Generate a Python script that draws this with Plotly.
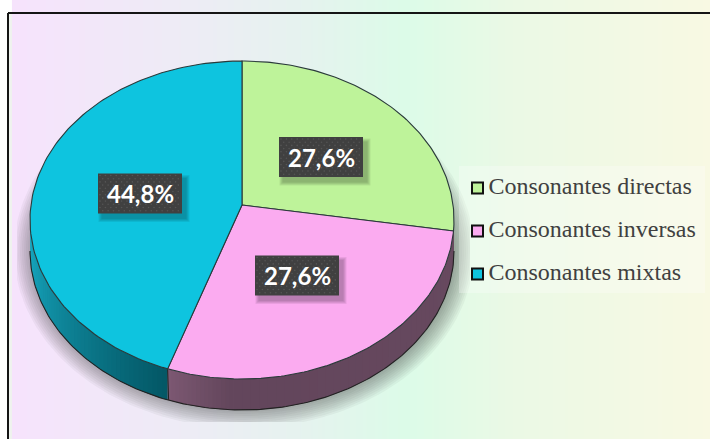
import numpy as np
import plotly.graph_objects as go

categories = ["Consonantes directas", "Consonantes inversas", "Consonantes mixtas"]
values = [27.6, 27.6, 44.8]

top_colors = ["#BEF39A", "#FBABF0", "#0EC4DF"]
CX, CY, RX, RY, DEPTH = 242.0, 220.0, 212.0, 159.0, 31.0
TILT = -15.0 / 159.0


def project(theta):
    """Perspective view of a point on the unit circle, clockwise from the top."""
    u, v = np.sin(theta), -np.cos(theta)
    d = 1 + TILT * v
    return CX + RX * u * np.sqrt(1 - TILT ** 2) / d, CY + RY * (v + TILT) / d


def ell(t, dy=0.0):
    return CX + RX * np.sin(t), CY - RY * np.cos(t) + dy


apex = (CX, CY + RY * TILT)
edges = np.cumsum([0] + values) / sum(values) * 2 * np.pi

fig = go.Figure()

# background gradient
gx = np.linspace(17, 710, 70)
fig.add_trace(go.Heatmap(
    x=gx, y=[13, 439], z=[gx, gx], zsmooth="best", showscale=False, hoverinfo="skip",
    colorscale=[[0, "#F6E3FC"], [0.25, "#EDECF5"], [0.4, "#E6F2EF"], [0.56, "#DCFBE8"],
                [0.72, "#EBF9E5"], [1, "#F8F9E3"]]))

# soft drop shadow, clipped to the plot area
t_full = np.linspace(0, 2 * np.pi, 241)
for d in range(18, -1, -2):
    sx = np.clip(CX + 2 + (RX + d) * np.sin(t_full), 17, 470)
    sy = np.clip(CY + 31 - (RY + d) * np.cos(t_full), 13, 422)
    fig.add_trace(go.Scatter(x=sx, y=sy, mode="lines", fill="toself", line=dict(width=0),
                             fillcolor="rgba(50,50,50,0.05)", hoverinfo="skip", showlegend=False))


def mix(c1, c2, f):
    return "rgb(%d,%d,%d)" % tuple(a + (b - a) * f for a, b in zip(c1, c2))


# side wall, drawn from overlapping strips so that it has a gradient
bx, by = project(edges[2])
t_split = np.pi + np.arcsin((CX - bx) / RX)
wall_parts = [
    (np.linspace(3 * np.pi / 2, t_split, 49), (24, 172, 196), (4, 88, 102)),
    (np.linspace(t_split - 0.32, np.pi / 2, 41), (99, 70, 92), (104, 74, 96)),
    (np.linspace(t_split, t_split - 0.32, 17), (124, 88, 114), (99, 70, 92)),
]
for ts, c1, c2 in wall_parts:
    for i in range(len(ts) - 1):
        a = ts[i:i + 3] if i < len(ts) - 2 else ts[i:i + 2]
        x1, y1 = ell(a)
        x2, y2 = ell(a[::-1], DEPTH)
        fig.add_trace(go.Scatter(
            x=np.r_[x1, x2], y=np.r_[y1, y2], mode="lines", fill="toself",
            line=dict(width=0),
            fillcolor=mix(c1, c2, i / (len(ts) - 2)), hoverinfo="skip", showlegend=False))

# wall outlines
tb = np.linspace(np.pi / 2, 3 * np.pi / 2, 181)
xb, yb = ell(tb, DEPTH)
fig.add_trace(go.Scatter(x=xb, y=yb, mode="lines", line=dict(color="#222222", width=1.1),
                         hoverinfo="skip", showlegend=False))
fig.add_trace(go.Scatter(x=[bx, bx + 1], y=[by, by + DEPTH], mode="lines",
                         line=dict(color="#222222", width=1), hoverinfo="skip", showlegend=False))

# top face
for i, cat in enumerate(categories):
    th = np.linspace(edges[i], edges[i + 1], 120)
    x, y = project(th)
    fig.add_trace(go.Scatter(
        x=np.r_[apex[0], x, apex[0]], y=np.r_[apex[1], y, apex[1]], mode="lines", fill="toself",
        fillcolor=top_colors[i], line=dict(color="#2A3A3A", width=1.1),
        name=cat, hovertemplate=f"{cat}: {values[i]}%<extra></extra>", showlegend=False))

# data label boxes: soft shadow, dark box, dotted texture
label_pos = [(321, 157), (297, 275.5), (140, 193.5)]
annotations = []
for v, (lx, ly) in zip(values, label_pos):
    for k in (7, 5, 3, 1):
        fig.add_trace(go.Scatter(
            x=[lx - 42 + 4 - k / 2, lx + 42 + 4 + k / 2, lx + 42 + 4 + k / 2, lx - 42 + 4 - k / 2, lx - 42 + 4 - k / 2],
            y=[ly - 20 + 5 - k / 2, ly - 20 + 5 - k / 2, ly + 20 + 5 + k / 2, ly + 20 + 5 + k / 2, ly - 20 + 5 - k / 2],
            mode="lines", fill="toself", line=dict(width=0), fillcolor="rgba(0,0,0,0.07)",
            hoverinfo="skip", showlegend=False))
    fig.add_trace(go.Scatter(
        x=[lx - 42, lx + 42, lx + 42, lx - 42, lx - 42],
        y=[ly - 20, ly - 20, ly + 20, ly + 20, ly - 20],
        mode="lines", fill="toself", line=dict(width=0), fillcolor="#404040",
        hoverinfo="skip", showlegend=False))
    dx, dy = [], []
    for r, yy in enumerate(np.arange(ly - 18, ly + 20, 3.2)):
        for xx in np.arange(lx - 40 + (r % 2) * 2.7, lx + 41, 5.4):
            dx.append(xx)
            dy.append(yy)
    fig.add_trace(go.Scatter(x=dx, y=dy, mode="markers", hoverinfo="skip", showlegend=False,
                             marker=dict(size=1.6, color="#555555", line=dict(width=0))))
    annotations.append(dict(
        x=lx, y=ly, xref="x", yref="y", showarrow=False,
        text=f"{v:.1f}%".replace(".", ","),
        font=dict(family="Lato", size=24, color="white", weight="bold")))

# legend backing panel, swatches and labels
legend_y = [188, 231, 274]
fig.add_trace(go.Scatter(
    x=[459, 705, 705, 459, 459], y=[166, 166, 293, 293, 166], mode="lines", fill="toself",
    line=dict(width=0), fillcolor="rgba(255,255,255,0.28)", hoverinfo="skip", showlegend=False))
fig.add_trace(go.Scatter(
    x=[477.5] * 3, y=legend_y, mode="markers", hoverinfo="skip", showlegend=False,
    marker=dict(symbol="square", size=11, color=top_colors, line=dict(color="#111111", width=2))))
fig.add_trace(go.Scatter(
    x=[488.5] * 3, y=legend_y, mode="text", text=categories, textposition="middle right",
    textfont=dict(family="Liberation Serif", size=24, color="#404040"),
    hoverinfo="skip", showlegend=False))

shapes = [
    dict(type="rect", xref="x", yref="y", x0=9, x1=17, y0=14, y1=439, layer="below",
         fillcolor="#EFF3EE", line=dict(width=0)),
    dict(type="line", xref="x", yref="y", x0=8, x1=8, y0=13, y1=439, layer="above",
         line=dict(color="#151515", width=2)),
    dict(type="line", xref="x", yref="y", x0=8, x1=710, y0=13, y1=13, layer="above",
         line=dict(color="#151515", width=2)),
]

fig.update_layout(
    width=710, height=439, margin=dict(l=0, r=0, t=0, b=0),
    paper_bgcolor="white", plot_bgcolor="white", showlegend=False,
    xaxis=dict(range=[0, 710], visible=False, fixedrange=True),
    yaxis=dict(range=[439, 0], visible=False, fixedrange=True),
    shapes=shapes, annotations=annotations,
)
fig.write_html("out.html", config={"displayModeBar": False},
               post_script="document.body.style.margin='0';")
